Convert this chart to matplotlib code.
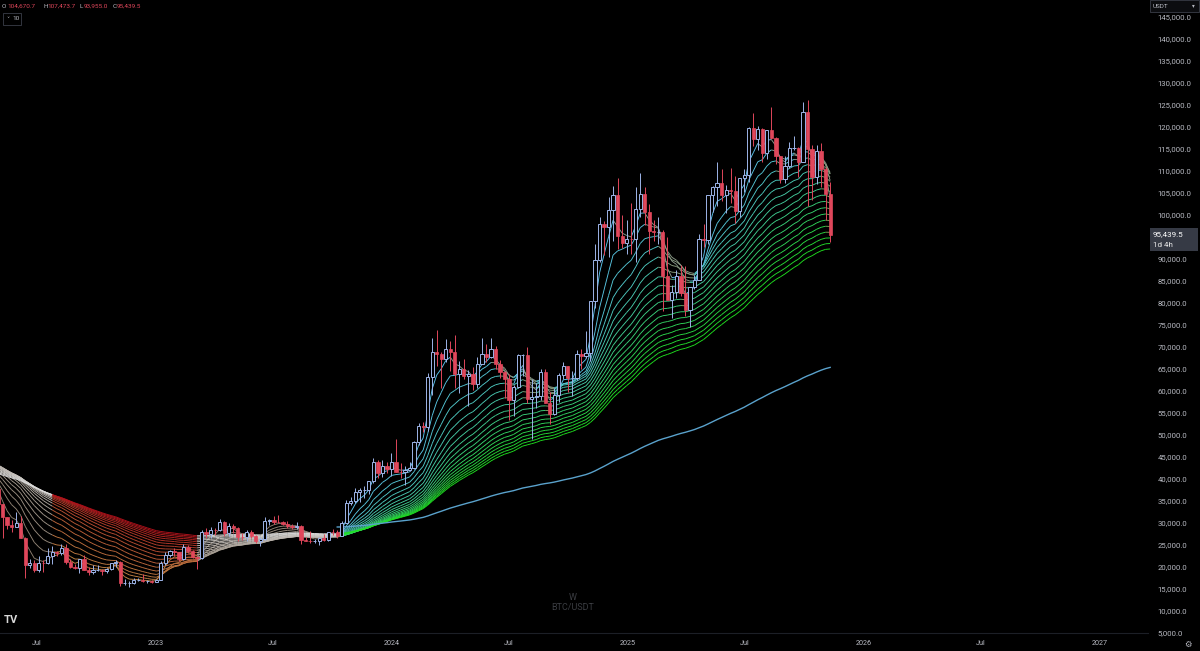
import matplotlib
matplotlib.use("Agg")
import matplotlib.pyplot as plt
import matplotlib.dates as mdates
from matplotlib.collections import LineCollection
from matplotlib.colors import to_rgb
from matplotlib.patches import Rectangle
import numpy as np
import pandas as pd

plt.rcParams['font.family'] = ['Roboto', 'DejaVu Sans']

# weekly closes BTC/USDT, weeks starting Monday 2020-01-06
closes_2020 = [8180, 8900, 8600, 9380, 10130, 9900, 9700, 8550, 8000, 5360, 5800, 5880, 6780,
               6900, 7120, 7700, 8900, 8720, 9680, 8720, 9450, 9660, 9380, 9300, 9000, 9070,
               9250, 9160, 9950, 11800, 11680, 11910, 11650, 11710, 10250, 10680, 11080, 10780, 10670,
               11380, 11500, 13030, 13800, 15480, 16050, 18670, 18180, 19150, 19250, 24000, 26450, 33000]
closes_2021 = [38150, 36000, 32100, 34300, 38900, 47100, 57400, 46200, 51000, 59000, 57350, 55800, 57000,
               60000, 56200, 49000, 57800, 58300, 46400, 34700, 35700, 35800, 39000, 35500, 34700, 34000,
               34300, 31800, 35400, 41500, 44600, 47100, 49000, 48800, 51800, 48300, 47300, 42800, 48200,
               54900, 61500, 61300, 61800, 63300, 65500, 59700, 57300, 49400, 48900, 46700, 50800, 47300]
closes_2022a = [41850, 43100, 36300, 38150, 42400, 42200, 38400, 39100, 38800, 37800, 41300, 46800, 46400,
                40500, 40400, 39450, 37650]
# from 2022-05-02 on, candles are drawn
closes_2022 = [34300, 31300, 29450, 29000, 29900, 26600, 20550, 21000, 19300, 20850, 20800, 22600, 23300,
               23200, 24300, 21150, 20050, 19800, 21800, 19400, 18800, 19300, 19400, 19050, 19550, 20800,
               21150, 16300, 16300, 16450, 17100, 17100, 16750, 16850, 16550]
highs_2022 = [40000, 34300, 31300, 30600, 32400, 31700, 26900, 21900, 21500, 22500, 21600, 24300, 24700,
              23650, 25200, 25200, 21800, 20600, 21850, 22700, 19950, 20400, 20450, 19650, 19700, 21000,
              21500, 21450, 17200, 16800, 17400, 17450, 18400, 17100, 16950]
lows_2022 = [33700, 26700, 28600, 28000, 29300, 26550, 17600, 19700, 18800, 18900, 18900, 20750, 20700,
             22400, 22650, 20750, 19850, 19500, 18550, 19350, 18150, 18450, 19050, 18200, 18650, 19250,
             20050, 15600, 16000, 15500, 16050, 16900, 16550, 16400, 16300]

closes_2023 = [17150, 20850, 22700, 23750, 23300, 21800, 24650, 23550, 22200, 22100, 27950, 27500, 28450,
               28300, 30300, 27800, 29250, 28900, 26900, 26750, 28050, 27100, 25900, 26350, 30500, 30600,
               30300, 30250, 29850, 29300, 29050, 29300, 26100, 26000, 25850, 25900, 26550, 26250, 27950,
               27900, 27150, 29950, 34550, 35000, 37050, 37400, 37450, 39450, 43800, 41400, 43000, 42300]
highs_2023 = [17200, 21300, 23350, 23950, 24250, 23450, 25250, 25000, 23900, 22600, 28400, 28900, 29200,
              28800, 31000, 30500, 30000, 29850, 29150, 27650, 28450, 28450, 27350, 26800, 31400, 31000,
              31500, 31800, 30450, 30350, 29750, 30250, 29650, 26850, 28150, 26400, 26900, 27500, 28050,
              28600, 28300, 30350, 35200, 35950, 38000, 37950, 38400, 39550, 44700, 44400, 44400, 43800]
lows_2023 = [16500, 17150, 20400, 22300, 22500, 21450, 21550, 23100, 21950, 19550, 21850, 26600, 26500,
             27200, 28200, 27100, 26950, 27700, 25800, 26150, 25900, 26600, 25350, 24800, 26250, 29500,
             29700, 29950, 29550, 28850, 28600, 28750, 25150, 25800, 25350, 25450, 24900, 26000, 26000,
             27200, 26550, 26950, 29900, 34000, 34550, 34800, 35650, 36700, 39000, 40200, 40500, 41300]

closes_2024 = [43950, 41700, 41600, 42050, 42600, 48300, 52150, 51750, 63100, 68950, 68350, 67200, 69650,
               68900, 63900, 64950, 63400, 63900, 61500, 66250, 68500, 67750, 69650, 66200, 64250, 62700,
               57900, 60800, 68150, 68250, 58100, 58700, 58950, 64250, 57300, 54850, 59150, 63600, 65650,
               62850, 62850, 68350, 67950, 68750, 80350, 89850, 97950, 97250, 101150, 104450, 95150, 93700,
               94550]
highs_2024 = [45900, 49050, 43550, 42850, 43850, 48600, 52800, 52950, 64000, 72000, 73800, 68950, 71750,
              71300, 72800, 66900, 67200, 64750, 65500, 67700, 71950, 70600, 71950, 70200, 66950, 64500,
              63850, 61300, 68450, 68500, 70000, 62750, 61800, 65000, 64950, 59800, 60650, 64150, 66500,
              65550, 64450, 69400, 69500, 73600, 80500, 93450, 99600, 98700, 104000, 106500, 108350, 99950,
              98950]
lows_2024 = [40750, 41500, 40300, 38550, 41800, 42250, 47700, 50600, 50900, 59000, 65600, 60750, 66550,
             64500, 60700, 59600, 62800, 56550, 60200, 60700, 66050, 66650, 67550, 65050, 63000, 58400,
             53500, 54250, 60600, 63450, 57250, 49000, 56100, 57850, 57200, 52550, 54550, 57500, 62650,
             59850, 58950, 62450, 65050, 67450, 66850, 78900, 89400, 90800, 90500, 94150, 92250, 92500,
             91200]

closes_2025 = [94500, 101300, 104700, 100600, 96450, 96150, 96250, 86050, 80700, 82600, 86050, 82350, 78350,
               83750, 85150, 94650, 94300, 104600, 106450, 107300, 104600, 105650, 105550, 100950, 108350,
               109200, 119800, 117300, 119450, 114200, 119300, 117400, 113500, 108250, 111150, 115250, 115250,
               112150, 123500, 115050, 108650, 114550, 110550, 104670.7, 95439.5]
highs_2025 = [102700, 106400, 109600, 106450, 102500, 98850, 99500, 96500, 95000, 84000, 87450, 88750, 88500,
              83600, 86450, 95750, 97900, 104300, 106650, 111950, 110400, 106800, 110600, 108950, 108500,
              110550, 119900, 123200, 120250, 119800, 119300, 124450, 117650, 113500, 113400, 116650, 117900,
              115400, 125700, 126200, 115950, 116000, 116400, 111000, 107473.7]
lows_2025 = [91200, 89250, 99500, 97750, 91250, 94050, 93400, 78250, 80600, 76600, 81150, 81650, 77150,
             74500, 83100, 85150, 92800, 93400, 100700, 102100, 103100, 100400, 102650, 98200, 99600,
             105150, 107450, 115750, 114700, 112000, 112650, 117200, 111700, 107250, 107300, 110600, 114700,
             108650, 111950, 102000, 103500, 106950, 106300, 98950, 93955.0]

first_week = "2020-01-06"
candle_start = "2022-05-02"
ribbon_lengths = list(range(4, 77, 4))
long_length = 240
phase_starts = ["2020-01-06", "2022-08-01", "2023-03-13", "2023-10-16"]
phase_names = ["flat", "bear", "flat", "bull"]

y_ticks = list(range(5000, 150000, 5000))
x_ticks = ["2022-07-01", "2023-01-01", "2023-07-01", "2024-01-01", "2024-07-01",
           "2025-01-01", "2025-07-01", "2026-01-01", "2026-07-01", "2027-01-01"]
x_labels = ["Jul", "2023", "Jul", "2024", "Jul", "2025", "Jul", "2026", "Jul", "2027"]

closes = closes_2020 + closes_2021 + closes_2022a + closes_2022 + closes_2023 + closes_2024 + closes_2025
highs = highs_2022 + highs_2023 + highs_2024 + highs_2025
lows = lows_2022 + lows_2023 + lows_2024 + lows_2025

dates = pd.date_range(first_week, periods=len(closes), freq="W-MON")
xd = mdates.date2num(dates.to_pydatetime())
s = pd.Series(closes, index=dates, dtype=float)

emas = [s.ewm(span=n, adjust=True).mean().values for n in ribbon_lengths]
long_ema = s.ewm(span=long_length, adjust=True).mean().values

phase_idx = np.searchsorted(mdates.date2num(pd.to_datetime(phase_starts).to_pydatetime()), xd, side="right") - 1
phase = [phase_names[k] for k in phase_idx]

BG = "#000000"
TXT = "#b8bac2"

fig = plt.figure(figsize=(12, 6.51), dpi=100, facecolor=BG)
ax = fig.add_axes([0, 18 / 651, 1148 / 1200, 633 / 651])
ax.set_facecolor(BG)


def blend(c1, c2, t):
    a, b = np.array(to_rgb(c1)), np.array(to_rgb(c2))
    return tuple(a + (b - a) * t)


pal = {
    "bull": ("#5cc4ee", "#1fe01f"),
    "bear": ("#c48a48", "#b0101a"),
    "flat": ("#8e8070", "#dcdcdc"),
}

n_lines = len(ribbon_lengths)
for i, e in enumerate(emas):
    t = i / (n_lines - 1)
    segs = []
    cols = []
    for j in range(len(xd) - 1):
        segs.append([(xd[j], e[j]), (xd[j + 1], e[j + 1])])
        ph = phase[j + 1]
        c = blend(pal[ph][0], pal[ph][1], t)
        if ph == "bull" and e[j + 1] < e[j]:
            c = blend(c, "#a8845c", 0.65)
        cols.append(c)
    ax.add_collection(LineCollection(segs, colors=cols, linewidths=0.65, zorder=2))

# long average, shown once the trend turns up
bull_start = mdates.date2num(pd.Timestamp(phase_starts[-1]).to_pydatetime())
m = xd >= bull_start - 7
ax.plot(xd[m], long_ema[m], color="#5aa2cc", lw=1.0, zorder=2)

# candles
k0 = int(np.searchsorted(xd, mdates.date2num(pd.Timestamp(candle_start).to_pydatetime())))
cx = xd[k0:]
c_close = np.array(closes[k0:], dtype=float)
c_open = np.array(closes[k0 - 1:-1], dtype=float)
c_high = np.maximum(np.array(highs, dtype=float), np.maximum(c_open, c_close))
c_low = np.minimum(np.array(lows, dtype=float), np.minimum(c_open, c_close))
up = c_close >= c_open
UPC = "#9db4e8"
DNC = "#e0475b"
ax.vlines(cx[up], c_low[up], c_high[up], color=UPC, lw=0.7, zorder=3)
ax.vlines(cx[~up], c_low[~up], c_high[~up], color=DNC, lw=0.7, zorder=3)
body_lo = np.minimum(c_open, c_close)
body_h = np.abs(c_close - c_open)
ax.bar(cx[up], body_h[up], bottom=body_lo[up], width=5.0, facecolor=BG, edgecolor=UPC,
       linewidth=0.7, zorder=4)
ax.bar(cx[~up], body_h[~up], bottom=body_lo[~up], width=5.0, facecolor=DNC, edgecolor=DNC,
       linewidth=0.5, zorder=4)

x_left = mdates.date2num(pd.Timestamp("2022-05-05").to_pydatetime())
x_right = mdates.date2num(pd.Timestamp("2027-03-17").to_pydatetime())
ax.set_xlim(x_left, x_right)
ax.set_ylim(5000, 148864)

ax.set_xticks(mdates.date2num(pd.to_datetime(x_ticks).to_pydatetime()))
ax.set_xticklabels(x_labels)
ax.yaxis.tick_right()
ax.set_yticks(y_ticks)
# the 95,000 label sits under the last-price tag
ax.set_yticklabels(["" if v == 95000 else f"{v:,.1f}" for v in y_ticks])
ax.tick_params(axis="y", length=0, pad=7, labelsize=5.6, colors=TXT)
ax.tick_params(axis="x", length=0, pad=5, labelsize=5.2, colors=TXT)
for sp in ["top", "left", "right"]:
    ax.spines[sp].set_visible(False)
ax.spines["bottom"].set_color("#1c1f26")
ax.spines["bottom"].set_linewidth(0.8)


def ftext(x, y, s, **kw):
    return fig.text(x / 1200, 1 - y / 651, s, **kw)


# OHLC legend
parts = [(2, "O", TXT), (7, "104,670.7", DNC), (43, "H", TXT), (47, "107,473.7", DNC),
         (80, "L", TXT), (84, "93,955.0", DNC), (113, "C", TXT), (117, "95,439.5", DNC)]
for px, txt, col in parts:
    ftext(px, 6, txt, color=col, fontsize=4.6, va="center", ha="left")

fig.patches.append(Rectangle((3 / 1200, 1 - 25 / 651), 18 / 1200, 12 / 651, transform=fig.transFigure,
                             facecolor=BG, edgecolor="#3a3e48", linewidth=0.6))
ftext(6, 19, "˅", color=TXT, fontsize=4.5, va="center", ha="left", family=["DejaVu Sans"])
ftext(12, 19, "10", color=TXT, fontsize=4.6, va="center", ha="left")

# price scale header
fig.patches.append(Rectangle((1150 / 1200, 1 - 12 / 651), 49 / 1200, 12 / 651, transform=fig.transFigure,
                             facecolor="#0c0d10", edgecolor="#3a3e48", linewidth=0.6))
ftext(1153, 6, "USDT", color=TXT, fontsize=4.6, va="center", ha="left")
ftext(1195, 6, "▾", color=TXT, fontsize=4, va="center", ha="right", family=["DejaVu Sans"])

# last price tag
fig.patches.append(Rectangle((1150 / 1200, 1 - 251 / 651), 48 / 1200, 23 / 651, transform=fig.transFigure,
                             facecolor="#363a45", edgecolor="none", zorder=5))
ftext(1153, 234, "95,439.5", color="#ffffff", fontsize=5.8, va="center", ha="left", zorder=6)
ftext(1153, 245, "1d 4h", color="#e8e8e8", fontsize=5.8, va="center", ha="left", zorder=6)

# watermark and logo
ftext(573, 597, "W", color="#3b3d42", fontsize=6.5, va="center", ha="center")
ftext(573, 607, "BTC/USDT", color="#3b3d42", fontsize=6.5, va="center", ha="center")
ftext(4, 620, "TV", color="#d8d8d8", fontsize=8, va="center", ha="left", fontweight="bold")
ftext(1188, 644, "⚙", color=TXT, fontsize=6, va="center", ha="center", family=["DejaVu Sans"])

fig.savefig("out.png", dpi=100, facecolor=BG)
